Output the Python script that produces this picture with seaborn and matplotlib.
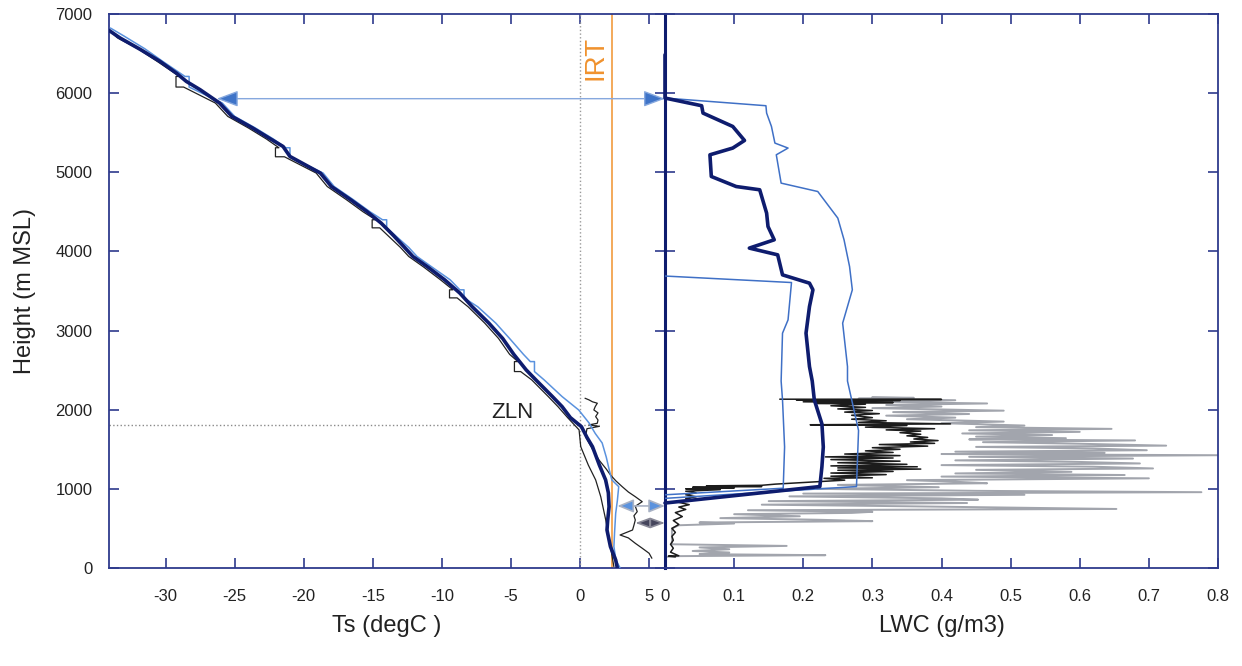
import numpy as np
import pandas as pd
import seaborn as sns
import matplotlib.pyplot as plt

# ---------------- data ----------------
# temperature profiles: (height m MSL, Ts degC)
ts_navy = [(6793, -34.1), (6697, -33.3), (6549, -31.8), (6400, -30.4), (6250, -29.2), (6148, -28.5),
           (6043, -27.5), (5875, -26.1), (5706, -25.2), (5559, -23.7), (5420, -22.4), (5326, -21.5),
           (5200, -21.0), (4990, -18.8), (4905, -18.4), (4820, -18.0), (4652, -16.6), (4500, -15.4),
           (4358, -14.4), (4200, -13.5), (4050, -12.7), (3936, -12.1), (3800, -11.0), (3641, -9.8),
           (3473, -8.7), (3300, -7.8), (3094, -6.6), (2900, -5.6), (2700, -4.8), (2503, -3.9),
           (2377, -3.2), (2166, -2.0), (2039, -1.3), (1900, -0.7), (1786, 0.1), (1650, 0.5),
           (1533, 0.9), (1300, 1.4), (1113, 1.85), (950, 2.05), (775, 2.1), (600, 2.0), (480, 1.95),
           (270, 2.2), (101, 2.58), (0, 2.7)]

ts_blue = [(6823, -34.0), (6720, -33.0), (6560, -31.5), (6400, -30.2), (6211, -28.6), (6211, -28.3),
           (6077, -28.3), (5875, -25.9), (5706, -25.0), (5559, -23.5), (5420, -22.2), (5310, -21.3),
           (5310, -21.0), (5196, -21.0), (4990, -18.6), (4820, -17.8), (4652, -16.4), (4500, -15.2),
           (4400, -14.3), (4400, -14.0), (4298, -14.0), (4050, -12.4), (3936, -11.8), (3800, -10.7),
           (3641, -9.4), (3515, -8.7), (3515, -8.4), (3413, -8.4), (3300, -7.4), (3094, -6.1),
           (2900, -5.1), (2700, -4.1), (2608, -3.6), (2608, -3.3), (2482, -3.3), (2377, -2.6),
           (2166, -1.3), (1997, -0.1), (1833, 0.65), (1700, 1.1), (1580, 1.6), (1400, 1.9),
           (1250, 2.1), (1113, 2.3), (1028, 2.8), (850, 2.7), (691, 2.58), (450, 2.5), (270, 2.45),
           (100, 2.6), (0, 2.9)]

ts_black = [(6800, -34.1), (6700, -33.5), (6560, -32.0), (6400, -30.6), (6211, -29.0), (6211, -29.25),
            (6077, -29.25), (6077, -28.7), (5875, -26.4), (5706, -25.5), (5559, -24.0), (5420, -22.7),
            (5310, -21.8), (5310, -22.05), (5196, -22.05), (5196, -21.4), (4990, -19.1), (4820, -18.3),
            (4652, -16.9), (4500, -15.7), (4400, -14.8), (4400, -15.05), (4298, -15.05), (4298, -14.5),
            (4050, -13.0), (3936, -12.4), (3800, -11.3), (3641, -10.1), (3515, -9.2), (3515, -9.45),
            (3413, -9.45), (3413, -8.9), (3300, -8.1), (3094, -6.9), (2900, -5.9), (2700, -5.1),
            (2608, -4.5), (2608, -4.75), (2482, -4.75), (2482, -4.3), (2377, -3.5), (2166, -2.3),
            (2039, -1.6), (1900, -0.9), (1745, -0.07), (1533, 0.05), (1300, 0.6), (1113, 1.13),
            (900, 1.5), (607, 1.86), (270, 2.2), (17, 2.45)]

ts_black_low = [(2145, 0.36), (2124, 0.65), (2100, 0.9), (2082, 1.25), (2040, 1.1), (1997, 1.0),
                (1960, 1.3), (1913, 1.13), (1870, 1.3), (1829, 1.25), (1808, 0.65), (1790, 1.4),
                (1760, 0.5), (1660, 0.4), (1500, 0.9), (1365, 1.37), (1250, 1.9), (1176, 2.2),
                (1100, 2.6), (1028, 3.05), (960, 3.5), (901, 4.0), (838, 4.5), (780, 4.0),
                (712, 4.14), (660, 3.9), (607, 4.0), (540, 3.9), (480, 3.8), (417, 2.9), (380, 3.5),
                (312, 4.0), (250, 4.5), (186, 5.0), (123, 5.2)]

# LWC profiles: (height m MSL, LWC g/m3)
lwc_navy = [(6485, 0.0), (5938, 0.0), (5841, 0.053), (5748, 0.055), (5579, 0.098), (5402, 0.115),
            (5306, 0.098), (5221, 0.065), (4947, 0.067), (4820, 0.103), (4779, 0.137), (4484, 0.147),
            (4315, 0.149), (4147, 0.158), (4042, 0.122), (3957, 0.163), (3704, 0.170), (3599, 0.209),
            (3515, 0.214), (3303, 0.209), (2967, 0.204), (2545, 0.209), (2362, 0.213), (2124, 0.216),
            (1821, 0.227), (1529, 0.229), (1279, 0.227), (1029, 0.224), (821, 0.0)]

lwc_upper = [(5938, 0.0), (5841, 0.146), (5748, 0.147), (5579, 0.154), (5369, 0.159), (5306, 0.178),
             (5221, 0.161), (4863, 0.168), (4757, 0.221), (4421, 0.250), (4147, 0.259), (3809, 0.267),
             (3515, 0.271), (3094, 0.257), (2545, 0.264), (2362, 0.264), (1737, 0.280), (1029, 0.277),
             (880, 0.0)]

lwc_lower = [(3689, 0.0), (3607, 0.183), (3135, 0.178), (2967, 0.170), (2362, 0.168), (2124, 0.170),
             (1529, 0.173), (1008, 0.171), (925, 0.0)]

lwc_gray = [(2160, 0.30), (2150, 0.36), (2140, 0.28), (2120, 0.42), (2100, 0.30), (2079, 0.466),
            (2060, 0.32), (2040, 0.40), (2020, 0.30), (1988, 0.49), (1970, 0.33), (1946, 0.44),
            (1925, 0.32), (1900, 0.42), (1880, 0.35), (1850, 0.49), (1830, 0.40), (1800, 0.52),
            (1780, 0.45), (1758, 0.646), (1740, 0.44), (1720, 0.60), (1700, 0.43), (1680, 0.56),
            (1660, 0.45), (1640, 0.58), (1625, 0.44), (1612, 0.68), (1590, 0.46), (1570, 0.60),
            (1546, 0.725), (1530, 0.45), (1510, 0.62), (1488, 0.697), (1470, 0.42), (1455, 0.636),
            (1440, 0.40), (1425, 0.80), (1405, 0.44), (1383, 0.677), (1360, 0.42), (1340, 0.60),
            (1321, 0.687), (1300, 0.40), (1280, 0.62), (1258, 0.706), (1240, 0.45), (1215, 0.588),
            (1195, 0.42), (1175, 0.665), (1155, 0.40), (1133, 0.70), (1110, 0.35), (1090, 0.42),
            (1071, 0.466), (1050, 0.25), (1021, 0.396), (1000, 0.22), (975, 0.45), (958, 0.776),
            (940, 0.20), (925, 0.52), (905, 0.18), (880, 0.40), (863, 0.453), (845, 0.15),
            (821, 0.437), (800, 0.14), (780, 0.35), (746, 0.653), (730, 0.12), (710, 0.30),
            (696, 0.27), (680, 0.10), (654, 0.195), (630, 0.08), (610, 0.22), (592, 0.30),
            (575, 0.05), (562, 0.10), (540, 0.02), (500, 0.01), (400, 0.01), (300, 0.01),
            (279, 0.176), (260, 0.05), (237, 0.093), (215, 0.04), (196, 0.093), (175, 0.05),
            (162, 0.232), (150, 0.02), (140, 0.0)]

lwc_black = [(2133, 0.166), (2130, 0.40), (2125, 0.19), (2115, 0.34), (2100, 0.20), (2090, 0.33),
             (2080, 0.22), (2070, 0.29), (2050, 0.24), (2030, 0.29), (2010, 0.25), (1990, 0.30),
             (1970, 0.26), (1950, 0.31), (1930, 0.27), (1900, 0.30), (1880, 0.27), (1860, 0.32),
             (1840, 0.28), (1821, 0.413), (1810, 0.21), (1800, 0.35), (1780, 0.29), (1760, 0.39),
             (1745, 0.32), (1730, 0.37), (1710, 0.34), (1690, 0.37), (1670, 0.35), (1650, 0.38),
             (1630, 0.36), (1610, 0.395), (1592, 0.355), (1575, 0.39), (1560, 0.31), (1540, 0.38),
             (1520, 0.30), (1500, 0.34), (1480, 0.29), (1460, 0.33), (1440, 0.26), (1420, 0.34),
             (1404, 0.232), (1390, 0.33), (1370, 0.24), (1350, 0.34), (1330, 0.25), (1310, 0.35),
             (1290, 0.24), (1279, 0.365), (1265, 0.25), (1250, 0.37), (1235, 0.25), (1220, 0.33),
             (1200, 0.24), (1180, 0.32), (1160, 0.24), (1140, 0.30), (1133, 0.23), (1110, 0.26),
             (1090, 0.22), (1060, 0.16), (1045, 0.14), (1038, 0.06), (1030, 0.14), (1020, 0.04),
             (1010, 0.10), (1000, 0.03), (990, 0.08), (970, 0.03), (950, 0.045), (925, 0.03),
             (900, 0.045), (880, 0.03), (860, 0.04), (830, 0.02), (800, 0.035), (770, 0.02),
             (740, 0.03), (700, 0.015), (650, 0.025), (600, 0.012), (550, 0.02), (500, 0.01),
             (450, 0.015), (400, 0.01), (350, 0.012), (300, 0.008), (250, 0.012), (200, 0.008),
             (154, 0.02), (150, 0.005), (140, 0.015)]

# reference levels / markers
zln_height = 1810
zln_ts_end = 1.4
irt_ts = 2.3
top_arrow = (5930, -26.3)      # height, Ts of left head
low_arrow = (784, 2.7)
dark_arrow = (569, 4.0)

ts_ticks = [-30, -25, -20, -15, -10, -5, 0, 5]
lwc_ticks = [0, 0.1, 0.2, 0.3, 0.4, 0.5, 0.6, 0.7, 0.8]
lwc_ticklabels = ['0', '0.1', '0.2', '0.3', '0.4', '0.5', '0.6', '0.7', '0.8']
h_ticks = [0, 1000, 2000, 3000, 4000, 5000, 6000, 7000]

# ---------------- styling ----------------
sns.set_theme(style='white')
plt.rcParams['font.family'] = ['Liberation Sans', 'DejaVu Sans']
plt.rcParams['axes.unicode_minus'] = False

NAVY = '#0e1c6e'
SPINE = '#2e3a8c'
LBLUE = '#5a92de'
BLUE = '#3f70c6'

W, H = 1242, 666
fig = plt.figure(figsize=(W / 100, H / 100), dpi=100)
ax1 = fig.add_axes([109 / W, 1 - 568 / H, (665 - 109) / W, (568 - 14) / H])
ax2 = fig.add_axes([665 / W, 1 - 568 / H, (1218 - 665) / W, (568 - 14) / H])


def prof(pairs, col):
    return pd.DataFrame(pairs, columns=['h', col])


# ---------------- left panel: temperature ----------------
ax1.axvline(0, color='#9a9a9a', lw=1.0, ls=':', zorder=1)
ax1.axvline(irt_ts, color='#f0922e', lw=1.1, zorder=1)
ax1.plot([-34.1, zln_ts_end], [zln_height, zln_height], color='#8a8a8a', lw=1.0, ls=':', zorder=1)

sns.lineplot(data=prof(ts_black, 'ts'), x='ts', y='h', sort=False, estimator=None,
             color='#222222', lw=0.9, ax=ax1, zorder=2)
sns.lineplot(data=prof(ts_black_low, 'ts'), x='ts', y='h', sort=False, estimator=None,
             color='#222222', lw=0.9, ax=ax1, zorder=2)
sns.lineplot(data=prof(ts_blue, 'ts'), x='ts', y='h', sort=False, estimator=None,
             color=LBLUE, lw=1.1, ax=ax1, zorder=3)
sns.lineplot(data=prof(ts_navy, 'ts'), x='ts', y='h', sort=False, estimator=None,
             color=NAVY, lw=2.6, ax=ax1, zorder=4)

ax1.text(-4.9, 1960, 'ZLN', fontsize=16, color='#222222', ha='center', va='center')
ax1.text(1.15, 6447, 'IRT', fontsize=20, color='#f0922e', rotation=90, ha='center', va='center')

# arrows
ax1.annotate('', xy=(1.0, top_arrow[0]), xycoords=('axes fraction', 'data'),
             xytext=(top_arrow[1], top_arrow[0]), textcoords='data',
             arrowprops=dict(arrowstyle='<|-|>,head_length=1.2,head_width=0.45', fc='#3f74c8',
                             ec='#86a8de', lw=1.0, shrinkA=0, shrinkB=0, mutation_scale=11),
             zorder=6)
ax1.annotate('', xy=(1.0, low_arrow[0]), xycoords=('axes fraction', 'data'),
             xytext=(low_arrow[1], low_arrow[0]), textcoords='data',
             arrowprops=dict(arrowstyle='<|-|>,head_length=1.1,head_width=0.45', fc='#5a92de',
                             ec='#a9b2c4', lw=1.2, shrinkA=0, shrinkB=0, mutation_scale=9),
             zorder=6)
ax1.annotate('', xy=(1.0, dark_arrow[0]), xycoords=('axes fraction', 'data'),
             xytext=(dark_arrow[1], dark_arrow[0]), textcoords='data',
             arrowprops=dict(arrowstyle='<|-|>,head_length=1.1,head_width=0.4', fc='#45455c',
                             ec='#8a8a98', lw=1.2, shrinkA=0, shrinkB=0, mutation_scale=8),
             zorder=6)

ax1.set_xlim(-34.1, 6.15)
ax1.set_ylim(0, 7000)
ax1.set_xticks(ts_ticks)
ax1.set_yticks(h_ticks)
ax1.set_xlabel('Ts (degC )', fontsize=17, color='#222222', labelpad=8)
ax1.set_ylabel('Height (m MSL)', fontsize=17, color='#222222', labelpad=14)

# ---------------- right panel: LWC ----------------
sns.lineplot(data=prof(lwc_gray, 'lwc'), x='lwc', y='h', sort=False, estimator=None,
             color='#a2a5ad', lw=1.4, ax=ax2, zorder=2)
sns.lineplot(data=prof(lwc_black, 'lwc'), x='lwc', y='h', sort=False, estimator=None,
             color='#1c1c1c', lw=1.1, ax=ax2, zorder=3)
sns.lineplot(data=prof(lwc_upper, 'lwc'), x='lwc', y='h', sort=False, estimator=None,
             color=BLUE, lw=1.1, ax=ax2, zorder=4)
sns.lineplot(data=prof(lwc_lower, 'lwc'), x='lwc', y='h', sort=False, estimator=None,
             color=BLUE, lw=1.1, ax=ax2, zorder=4)
sns.lineplot(data=prof(lwc_navy, 'lwc'), x='lwc', y='h', sort=False, estimator=None,
             color=NAVY, lw=2.6, ax=ax2, zorder=5, clip_on=False)

ax2.set_xlim(0, 0.8)
ax2.set_ylim(0, 7000)
ax2.set_xticks(lwc_ticks)
ax2.set_xticklabels(lwc_ticklabels)
ax2.set_yticks(h_ticks)
ax2.set_xlabel('LWC (g/m3)', fontsize=17, color='#222222', labelpad=8)
ax2.set_ylabel('')

for ax in (ax1, ax2):
    for s in ax.spines.values():
        s.set_color(SPINE)
        s.set_linewidth(1.3)
        s.set_visible(True)
    ax.tick_params(direction='in', top=True, right=True, bottom=True, left=True,
                   length=7, width=1.2, color=SPINE, labelsize=12, labelcolor='#222222')
    ax.tick_params(axis='x', pad=15)
    ax.tick_params(axis='y', pad=12)
    ax.set_facecolor('white')
    ax.grid(False)

ax1.spines['right'].set_visible(False)
ax2.spines['left'].set_color(NAVY)
ax2.spines['left'].set_linewidth(2.2)
ax2.tick_params(labelleft=False)

fig.savefig('out.png', dpi=100, facecolor='white')
